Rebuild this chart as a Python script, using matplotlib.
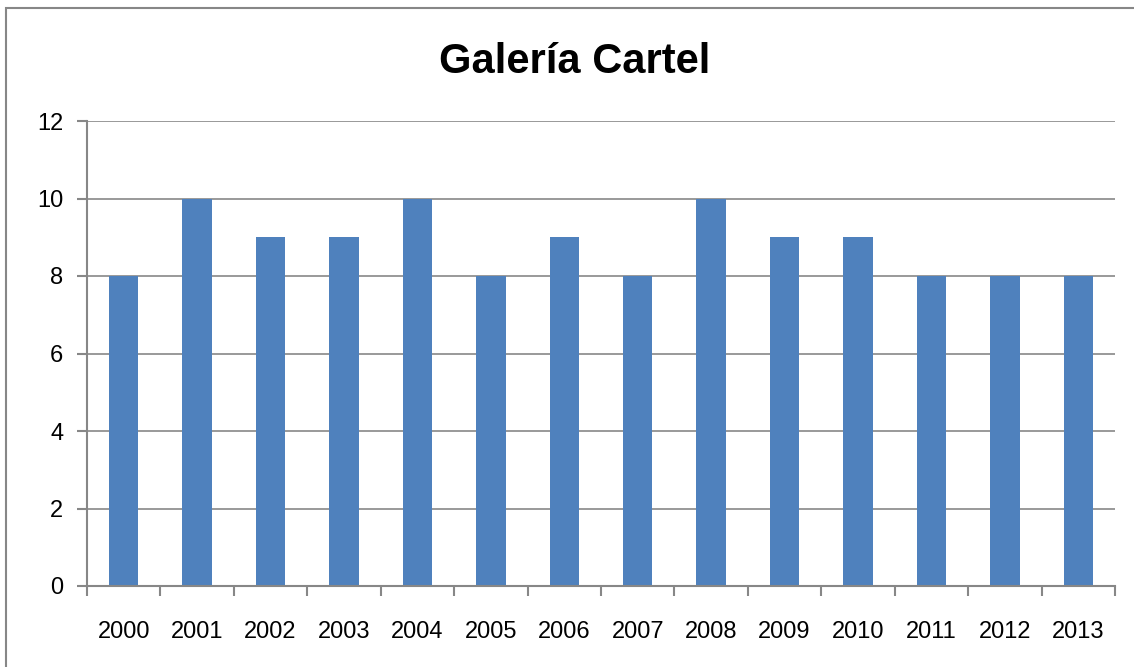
import matplotlib
matplotlib.use("Agg")
import matplotlib.pyplot as plt
from matplotlib.patches import Rectangle

years = ["2000", "2001", "2002", "2003", "2004", "2005", "2006",
         "2007", "2008", "2009", "2010", "2011", "2012", "2013"]
values = [8, 10, 9, 9, 10, 8, 9, 8, 10, 9, 9, 8, 8, 8]
title = "Galería Cartel"

plt.rcParams['font.family'] = ['Liberation Sans', 'DejaVu Sans']

W, H = 1134, 667
fig = plt.figure(figsize=(W / 100, H / 100), dpi=100)
fig.patch.set_facecolor("white")

# outer chart border
fig.patches.append(Rectangle((5.5 / W, -0.01), 1.02, (H - 8.5) / H + 0.01,
                             transform=fig.transFigure, fill=False,
                             edgecolor="#878787", linewidth=1.5, zorder=0))

ax = fig.add_axes([87 / W, 1 - 586 / H, (1115 - 87) / W, (586 - 121) / H])
x = list(range(len(years)))
ax.bar(x, values, width=0.4, color="#4F81BD", zorder=2)

ax.set_xlim(-0.5, len(years) - 0.5)
ax.set_ylim(0, 12)
ax.set_yticks(range(0, 13, 2))
ax.set_yticklabels([str(v) for v in range(0, 13, 2)], fontsize=17)
ax.set_xticks(x)
ax.set_xticklabels(years, fontsize=17)
ax.tick_params(axis="x", length=0, pad=25)
ax.set_xticks([i - 0.5 for i in range(len(years) + 1)], minor=True)
ax.tick_params(axis="x", which="minor", length=7, width=1.5, color="#878787")
ax.tick_params(axis="y", length=7, width=1.5, color="#878787", pad=10)

ax.grid(axis="y", color="#878787", linewidth=1.2, zorder=1)
ax.set_axisbelow(True)
for s in ["top", "right"]:
    ax.spines[s].set_visible(False)
for s in ["left", "bottom"]:
    ax.spines[s].set_color("#878787")
    ax.spines[s].set_linewidth(1.5)

fig.text(575 / W, 1 - 62 / H, title, ha="center", va="center",
         fontsize=30, fontweight="bold")

fig.savefig("out.png", dpi=100)
